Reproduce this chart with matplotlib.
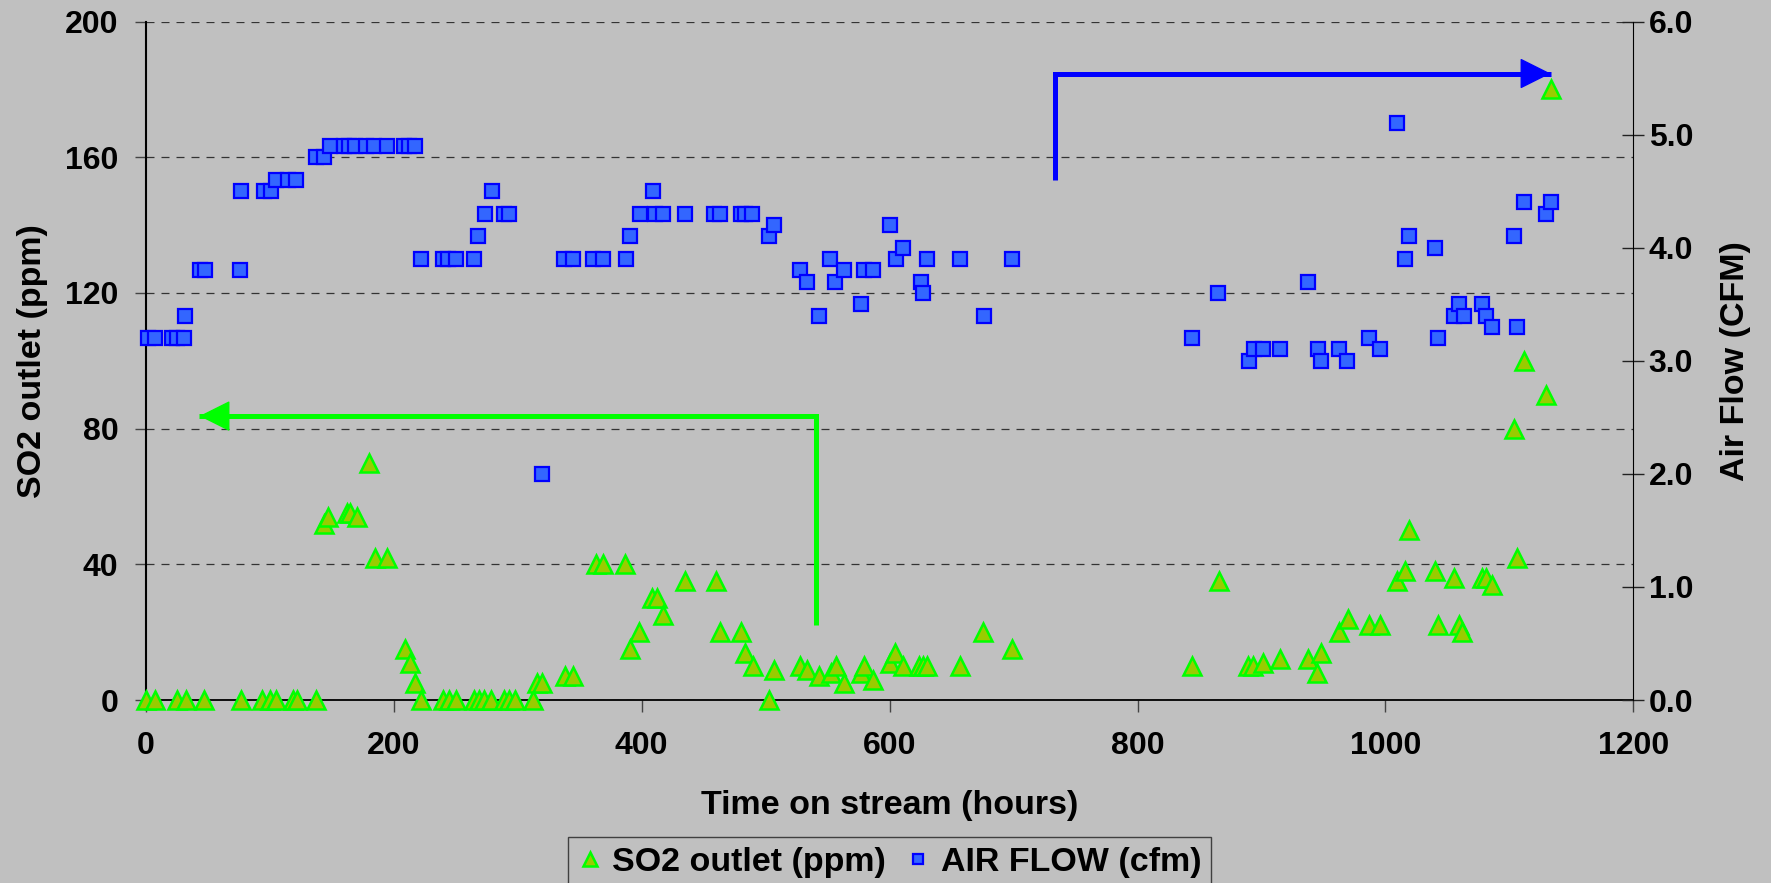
'''
SO2 outlet concentration and air flow versus time on stream.
Twin-axis scatter with guide arrows pointing to each series' axis.
'''
import matplotlib
matplotlib.use('Agg')
import matplotlib.pyplot as plt
from matplotlib.ticker import FormatStrFormatter

# SO2 outlet (ppm) vs time on stream (hours)
so2_hours = [0, 7.5, 25.5, 32.5, 47, 77, 94, 100.5, 105, 119, 122, 137.5,
             144, 147, 162, 165, 170, 180, 185, 195, 209, 213, 217.5,
             222, 240, 245, 250, 264.5, 268.5, 273, 278.5, 289, 293, 298, 312,
             316, 320, 338, 345, 363, 369, 386.5, 391, 398, 408.5, 412, 417,
             435, 460, 463, 480, 483.5, 489.5, 503, 507, 528, 533, 543, 552.5,
             556.5, 563, 577, 579.5, 587, 600, 604.5, 611, 624, 627, 630, 657,
             675.5, 699, 844, 865.5, 889, 893, 901, 915, 937.5, 945, 948, 962.5,
             970, 987, 996, 1009, 1016, 1019, 1040, 1042.5, 1055, 1059.5, 1062,
             1077.5, 1081.5, 1086, 1103.5, 1106, 1111.5, 1129.5, 1133.5]
so2_ppm = [0, 0, 0, 0, 0, 0, 0, 0, 0, 0, 0, 0,
           52, 54, 55, 55, 54, 70, 42, 42, 15, 11, 5,
           0, 0, 0, 0, 0, 0, 0, 0, 0, 0, 0, 0,
           5, 5, 7, 7, 40, 40, 40, 15, 20, 30, 30, 25,
           35, 35, 20, 20, 14, 10, 0, 9, 10, 9, 7, 8,
           10, 5, 8, 10, 6, 11, 14, 10, 10, 10, 10, 10,
           20, 15, 10, 35, 10, 10, 11, 12, 12, 8, 14, 20,
           24, 22, 22, 35, 38, 50, 38, 22, 36, 22, 20,
           36, 36, 34, 80, 42, 100, 90, 180]

# Air flow (cfm) vs time on stream (hours)
air_hours = [2, 7.5, 21, 25, 31, 32, 44, 48, 76, 77, 95, 101, 105, 115, 121,
             137, 144, 149, 160, 164, 169, 178, 184, 195, 208, 212, 217,
             222, 240, 244, 250, 265, 268, 274, 279, 289, 293, 320,
             337, 345, 361, 369, 387, 391, 399, 409, 411, 417, 435, 458, 463,
             480, 483, 489, 503, 507, 528, 533, 543, 552, 556, 563, 577, 579,
             587, 600, 605, 611, 625, 627, 630, 657, 676, 698.5,
             844, 865, 890, 894, 901, 915, 937.5, 945.5, 948, 962.5, 969, 987,
             996, 1009, 1015.5, 1019, 1040, 1042.5, 1055, 1059.5, 1063, 1078,
             1081.5, 1086, 1103.5, 1106, 1111.5, 1129.5, 1133.5]
air_cfm = [3.2, 3.2, 3.2, 3.2, 3.2, 3.4, 3.8, 3.8, 3.8, 4.5, 4.5, 4.5, 4.6, 4.6, 4.6,
           4.8, 4.8, 4.9, 4.9, 4.9, 4.9, 4.9, 4.9, 4.9, 4.9, 4.9, 4.9,
           3.9, 3.9, 3.9, 3.9, 3.9, 4.1, 4.3, 4.5, 4.3, 4.3, 2.0,
           3.9, 3.9, 3.9, 3.9, 3.9, 4.1, 4.3, 4.5, 4.3, 4.3, 4.3, 4.3, 4.3,
           4.3, 4.3, 4.3, 4.1, 4.2, 3.8, 3.7, 3.4, 3.9, 3.7, 3.8, 3.5, 3.8,
           3.8, 4.2, 3.9, 4.0, 3.7, 3.6, 3.9, 3.9, 3.4, 3.9,
           3.2, 3.6, 3.0, 3.1, 3.1, 3.1, 3.7, 3.1, 3.0, 3.1, 3.0, 3.2,
           3.1, 5.1, 3.9, 4.1, 4.0, 3.2, 3.4, 3.5, 3.4, 3.5,
           3.4, 3.3, 4.1, 3.3, 4.4, 4.3, 4.4]

# guide arrows: [x of vertical leg, x of tip], [bottom of leg, height of horizontal leg]
green_arrow_x = [540.5, 43.3]
green_arrow_y = [22.1, 83.7]      # ppm
blue_arrow_x = [733.5, 1133.2]
blue_arrow_y = [4.6, 5.54]        # cfm

x_ticks = [0, 200, 400, 600, 800, 1000, 1200]
ppm_ticks = [0, 40, 80, 120, 160, 200]
cfm_ticks = [0, 1, 2, 3, 4, 5, 6]

BG = '#C0C0C0'
FS = 23
FS_LABEL = 24.5

plt.rcParams['font.family'] = ['Liberation Sans', 'DejaVu Sans']
plt.rcParams['font.weight'] = 'bold'
plt.rcParams['axes.labelweight'] = 'bold'


def draw_arrow(ax, xs, ys, color):
    '''Vertical leg up, then horizontal leg ending in a filled arrow head.'''
    ax.plot([xs[0], xs[0], xs[1]], [ys[0], ys[1], ys[1]], color=color,
            lw=3.6, solid_joinstyle='miter', solid_capstyle='butt', zorder=4)
    ax.annotate('', xy=(xs[1], ys[1]), xytext=(xs[0], ys[1]),
                arrowprops=dict(arrowstyle='-|>,head_length=0.4,head_width=0.2',
                                mutation_scale=50, color=color, lw=1,
                                shrinkA=0, shrinkB=0),
                zorder=4)


fig = plt.figure(figsize=(17.71, 8.83), dpi=100, facecolor=BG)
ax = fig.add_axes([0.0823, 0.2072, 0.8400, 0.76845])
ax.set_facecolor(BG)
ax2 = ax.twinx()
ax2.patch.set_visible(False)

ax.plot(so2_hours, so2_ppm, linestyle='none', marker='^', ms=12.5,
        mfc='#99CC00', mec='#00FF00', mew=1.8, label='SO2 outlet (ppm)',
        zorder=3, clip_on=False)
ax2.plot(air_hours, air_cfm, linestyle='none', marker='s', ms=9.8,
         mfc='#3366FF', mec='#0000FF', mew=1.6, label='AIR FLOW (cfm)',
         zorder=3, clip_on=False)

draw_arrow(ax, green_arrow_x, green_arrow_y, '#00FF00')
draw_arrow(ax2, blue_arrow_x, blue_arrow_y, '#0000FF')

ax.set_xlim(0, 1200)
ax.set_ylim(0, 200)
ax2.set_ylim(0, 6)
ax.set_xticks(x_ticks)
ax.set_yticks(ppm_ticks)
ax2.set_yticks(cfm_ticks)
ax2.yaxis.set_major_formatter(FormatStrFormatter('%.1f'))

ax.yaxis.grid(True, linestyle=(0, (6.4, 5.6)), color='#333333', lw=0.9)
ax.set_axisbelow(True)

for a in (ax, ax2):
    a.spines['top'].set_visible(False)
ax.spines['right'].set_visible(False)
ax2.spines['left'].set_visible(False)
ax2.spines['bottom'].set_visible(False)
ax.spines['left'].set_linewidth(1.5)
ax.spines['bottom'].set_linewidth(1.3)
ax2.spines['right'].set_linewidth(0.8)

ax.tick_params(axis='x', direction='out', length=8.5, width=1, color='#444444',
               labelsize=FS, pad=14)
ax.tick_params(axis='y', direction='out', length=7.7, width=1, color='#444444',
               labelsize=FS, pad=12)
ax2.tick_params(axis='y', direction='inout', length=16, width=1, color='#222222',
                labelsize=FS, pad=3)

ax.set_xlabel('Time on stream (hours)', fontsize=FS_LABEL)
ax.set_ylabel('SO2 outlet (ppm)', fontsize=FS_LABEL)
ax2.set_ylabel('Air Flow (CFM)', fontsize=FS_LABEL)
ax.xaxis.set_label_coords(0.5, -0.132)
ax.yaxis.set_label_coords(-0.066, 0.5)
ax2.yaxis.set_label_coords(1.058, 0.5)

h1, l1 = ax.get_legend_handles_labels()
h2, l2 = ax2.get_legend_handles_labels()
leg = fig.legend(h1 + h2, l1 + l2, loc='upper left',
                 bbox_to_anchor=(568 / 1771, 1 - 836.7 / 883), ncol=2,
                 fontsize=FS_LABEL, markerscale=0.75, handlelength=0.7,
                 handletextpad=0.3, columnspacing=0.6, borderpad=0.3,
                 borderaxespad=0, fancybox=False, framealpha=1,
                 facecolor=BG, edgecolor='#404040')
leg.get_frame().set_linewidth(1.0)

fig.savefig('out.png', dpi=100, facecolor=BG)
